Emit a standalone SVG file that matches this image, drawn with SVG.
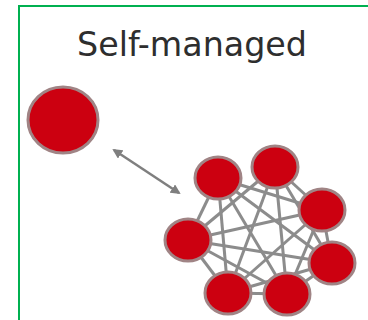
<svg xmlns="http://www.w3.org/2000/svg" width="368" height="320" viewBox="0 0 368 320">
<style>
.node{fill:#cc0010;stroke:#a08485;stroke-width:3}
.edge{stroke:#8c8c8c;stroke-width:3;fill:none}
.title{font-family:"DejaVu Sans",sans-serif;font-size:33px;fill:#2e2e2e}
</style>
<defs>
<marker id="ah" viewBox="0 0 10 10" refX="8" refY="5" markerWidth="4" markerHeight="4" orient="auto-start-reverse">
<path d="M0,0 L10,5 L0,10 Z" fill="#7f7f7f"/>
</marker>
</defs>
<rect width="368" height="320" fill="#fff"/>
<path d="M19,320 V6 H368" fill="none" stroke="#00b050" stroke-width="2"/>
<text class="title" x="77" y="56" textLength="230" lengthAdjust="spacingAndGlyphs">Self-managed</text>
<g id="connectors">
<line x1="114" y1="150" x2="179" y2="193" stroke="#7f7f7f" stroke-width="2.5" marker-start="url(#ah)" marker-end="url(#ah)"/>
<g class="edge">
<line x1="218" y1="178" x2="322" y2="210"/>
<line x1="218" y1="178" x2="188" y2="240"/>
<line x1="218" y1="178" x2="332" y2="263"/>
<line x1="218" y1="178" x2="228" y2="293"/>
<line x1="218" y1="178" x2="287" y2="294"/>
<line x1="275" y1="167" x2="322" y2="210"/>
<line x1="275" y1="167" x2="188" y2="240"/>
<line x1="275" y1="167" x2="332" y2="263"/>
<line x1="275" y1="167" x2="228" y2="293"/>
<line x1="275" y1="167" x2="287" y2="294"/>
<line x1="322" y1="210" x2="188" y2="240"/>
<line x1="322" y1="210" x2="332" y2="263"/>
<line x1="322" y1="210" x2="228" y2="293"/>
<line x1="322" y1="210" x2="287" y2="294"/>
<line x1="188" y1="240" x2="332" y2="263"/>
<line x1="188" y1="240" x2="228" y2="293"/>
<line x1="188" y1="240" x2="287" y2="294"/>
<line x1="332" y1="263" x2="228" y2="293"/>
<line x1="332" y1="263" x2="287" y2="294"/>
<line x1="228" y1="293" x2="287" y2="294"/>
</g>
</g>
<g id="node-single"><ellipse class="node" cx="63" cy="120" rx="35" ry="33"/></g>
<g id="node-a"><ellipse class="node" cx="218" cy="178" rx="23" ry="21"/></g>
<g id="node-b"><ellipse class="node" cx="275" cy="167" rx="23" ry="21"/></g>
<g id="node-c"><ellipse class="node" cx="322" cy="210" rx="23" ry="21"/></g>
<g id="node-d"><ellipse class="node" cx="188" cy="240" rx="23" ry="21"/></g>
<g id="node-e"><ellipse class="node" cx="332" cy="263" rx="23" ry="21"/></g>
<g id="node-f"><ellipse class="node" cx="228" cy="293" rx="23" ry="21"/></g>
<g id="node-g"><ellipse class="node" cx="287" cy="294" rx="23" ry="21"/></g>
</svg>
